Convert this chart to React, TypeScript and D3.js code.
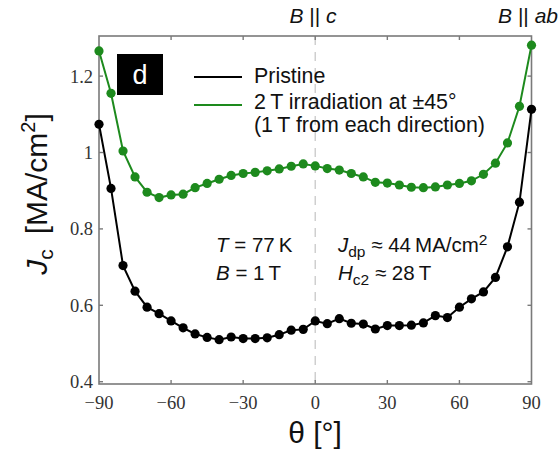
import React from "react";
import * as d3 from "d3";

const angles: number[] = [
  -90, -85, -80, -75, -70, -65, -60, -55, -50, -45, -40, -35, -30, -25, -20, -15, -10, -5,
  0, 5, 10, 15, 20, 25, 30, 35, 40, 45, 50, 55, 60, 65, 70, 75, 80, 85, 90,
];
const pristine: number[] = [
  1.074, 0.906, 0.704, 0.637, 0.595, 0.578, 0.559, 0.541, 0.525, 0.516, 0.51, 0.517, 0.513,
  0.513, 0.515, 0.523, 0.535, 0.537, 0.559, 0.552, 0.565, 0.553, 0.551, 0.538, 0.547, 0.547,
  0.548, 0.554, 0.573, 0.568, 0.595, 0.617, 0.635, 0.673, 0.753, 0.87, 1.113,
];
const irradiated: number[] = [
  1.266, 1.155, 1.004, 0.936, 0.896, 0.882, 0.889, 0.891, 0.908, 0.919, 0.93, 0.94, 0.945,
  0.948, 0.952, 0.957, 0.964, 0.97, 0.965, 0.958, 0.954, 0.945, 0.936, 0.922, 0.92, 0.915,
  0.909, 0.908, 0.91, 0.915, 0.919, 0.926, 0.943, 0.972, 1.025, 1.121, 1.281,
];
const xTicks: number[] = [-90, -60, -30, 0, 30, 60, 90];
const yTicks: number[] = [0.4, 0.6, 0.8, 1, 1.2];
const legendLabels: string[] = ["Pristine", "2\u2009T irradiation at \u00b145\u00b0", "(1\u2009T from each direction)"];

const W = 560;
const H = 449;
const GREEN = "#1d8a1d";
const SANS = "'Liberation Sans', Arial, sans-serif";
const SERIF = "'Liberation Serif', 'Times New Roman', serif";

export default function App() {
  const x = d3.scaleLinear().domain([-90, 90]).range([99, 531.5]);
  const y = d3.scaleLinear().domain([0.394, 1.305]).range([384, 36]);
  const x0 = x(-90), x1 = x(90), yTop = y(1.305), yBot = y(0.394);

  const line = d3
    .line<[number, number]>()
    .x((d) => x(d[0]))
    .y((d) => y(d[1]));
  const pData: [number, number][] = angles.map((a, i) => [a, pristine[i]]);
  const gData: [number, number][] = angles.map((a, i) => [a, irradiated[i]]);
  const fmtX = (v: number) => (v < 0 ? "\u2212" + Math.abs(v) : String(v));

  return (
    <svg width={W} height={H} style={{ position: "absolute", left: 0, top: 0, background: "#fff" }}>
      <rect x={0} y={0} width={W} height={H} fill="#fff" />
      <line x1={x(0)} x2={x(0)} y1={yTop} y2={yBot} stroke="#cfcfcf" strokeWidth={1.5} strokeDasharray="9,7" />

      <rect x={x0} y={yTop} width={x1 - x0} height={yBot - yTop} fill="none" stroke="#7a7a7a" strokeWidth={1.6} />
      {xTicks.slice(1, -1).map((t) => (
        <g key={"xt" + t}>
          <line x1={x(t)} x2={x(t)} y1={yBot} y2={yBot - 4} stroke="#7a7a7a" strokeWidth={1.4} />
          <line x1={x(t)} x2={x(t)} y1={yTop} y2={yTop + 4} stroke="#7a7a7a" strokeWidth={1.4} />
        </g>
      ))}
      {yTicks.map((t) => (
        <g key={"yt" + t}>
          <line x1={x0} x2={x0 + 4} y1={y(t)} y2={y(t)} stroke="#7a7a7a" strokeWidth={1.4} />
          <line x1={x1} x2={x1 - 4} y1={y(t)} y2={y(t)} stroke="#7a7a7a" strokeWidth={1.4} />
        </g>
      ))}
      {xTicks.map((t) => (
        <text key={"xl" + t} x={x(t)} y={409} textAnchor="middle" fontFamily={SERIF} fontSize={18.5} fill="#333">
          {fmtX(t)}
        </text>
      ))}
      {yTicks.map((t) => (
        <text key={"yl" + t} x={93} y={y(t)} dy="0.35em" textAnchor="end" fontFamily={SERIF} fontSize={18.5} fill="#333">
          {String(t)}
        </text>
      ))}

      <path d={line(gData) || ""} fill="none" stroke={GREEN} strokeWidth={2} />
      {gData.map((d, i) => (
        <circle key={"g" + i} cx={x(d[0])} cy={y(d[1])} r={4.6} fill={GREEN} />
      ))}
      <path d={line(pData) || ""} fill="none" stroke="#000" strokeWidth={2} />
      {pData.map((d, i) => (
        <circle key={"p" + i} cx={x(d[0])} cy={y(d[1])} r={4.6} fill="#000" />
      ))}

      <rect x={117} y={54} width={46} height={41} fill="#000" />
      <text x={140} y={84} textAnchor="middle" fontFamily={SANS} fontSize={27} fill="#fff">d</text>

      <line x1={194} x2={242} y1={77} y2={77} stroke="#000" strokeWidth={2.2} />
      <line x1={194} x2={242} y1={105} y2={105} stroke={GREEN} strokeWidth={2.2} />
      <text x={254} y={83} fontFamily={SANS} fontSize={21.4} fill="#111">{legendLabels[0]}</text>
      <text x={254} y={109} fontFamily={SANS} fontSize={21.4} fill="#111">{legendLabels[1]}</text>
      <text x={254} y={132} fontFamily={SANS} fontSize={21.4} fill="#111">{legendLabels[2]}</text>

      <text x={313} y={23} textAnchor="middle" fontFamily={SANS} fontSize={21} fill="#111">
        <tspan fontStyle="italic">B</tspan> || <tspan fontStyle="italic">c</tspan>
      </text>
      <text x={558} y={23} textAnchor="end" fontFamily={SANS} fontSize={21} fill="#111">
        <tspan fontStyle="italic">B</tspan> || <tspan fontStyle="italic">ab</tspan>
      </text>

      <text x={216} y={252} fontFamily={SANS} fontSize={20.5} fill="#111">
        <tspan fontStyle="italic">T</tspan> = 77{"\u2009"}K
      </text>
      <text x={216} y={280} fontFamily={SANS} fontSize={20.5} fill="#111">
        <tspan fontStyle="italic">B</tspan> = 1{"\u2009"}T
      </text>
      <text x={338} y={252} fontFamily={SANS} fontSize={20.5} fill="#111">
        <tspan fontStyle="italic">J</tspan>
        <tspan fontSize={15.5} dy={5}>dp</tspan>
        <tspan dy={-5}> ≈ 44{"\u2009"}MA/cm</tspan>
        <tspan fontSize={15.5} dy={-7}>2</tspan>
      </text>
      <text x={338} y={280} fontFamily={SANS} fontSize={20.5} fill="#111">
        <tspan fontStyle="italic">H</tspan>
        <tspan fontSize={15.5} dy={5}>c2</tspan>
        <tspan dy={-5}> ≈ 28{"\u2009"}T</tspan>
      </text>

      <text transform="translate(47,194) rotate(-90)" textAnchor="middle" fontFamily={SANS} fontSize={30} fill="#111">
        <tspan fontStyle="italic">J</tspan>
        <tspan fontSize={21} dy={6}>c</tspan>
        <tspan dy={-6}>{"\u2002"}[MA/cm</tspan>
        <tspan fontSize={20} dy={-12}>2</tspan>
        <tspan dy={12}>]</tspan>
      </text>
      <text x={315} y={443} textAnchor="middle" fontFamily={SANS} fontSize={30} fill="#111">
        θ [°]
      </text>
    </svg>
  );
}
